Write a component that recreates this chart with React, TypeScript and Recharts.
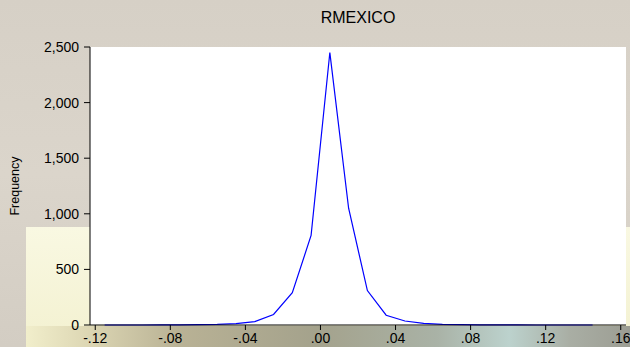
import React from 'react';
import { LineChart, Line, XAxis, YAxis, CartesianGrid } from 'recharts';

// Histogram bin midpoints of RMEXICO returns and their counts
const binMids = [
  -0.115, -0.105, -0.095, -0.085, -0.075, -0.065, -0.055, -0.045, -0.035,
  -0.025, -0.015, -0.005, 0.005, 0.015, 0.025, 0.035, 0.045, 0.055, 0.065,
  0.075, 0.085, 0.095, 0.105, 0.115, 0.125, 0.135, 0.145,
];
const frequency = [
  0, 0, 0, 1, 1, 3, 6, 13, 30,
  95, 290, 805, 2450, 1050, 310, 88, 36, 14, 6,
  3, 2, 1, 1, 0, 0, 0, 0,
];
const xTicks = [-0.12, -0.08, -0.04, 0, 0.04, 0.08, 0.12, 0.16];
const yTicks = [0, 500, 1000, 1500, 2000, 2500];

const data = binMids.map((x, i) => ({ x, freq: frequency[i] }));

const font = '"Liberation Sans", Arial, sans-serif';
const tickStyle = { fontFamily: font, fontSize: 14, fill: '#000' };

const fmtX = (v: number) => {
  const s = Math.abs(v).toFixed(2).replace(/^0/, '');
  return v < -1e-9 ? '-' + s : s;
};
const fmtY = (v: number) => v.toLocaleString('en-US');

const FreqLabel = () => (
  <text
    x={15}
    y={186}
    transform="rotate(-90 15 186)"
    textAnchor="middle"
    dominantBaseline="central"
    style={{ fontFamily: font, fontSize: 12.5, fill: '#000' }}
  >
    Frequency
  </text>
);

export default function App() {
  return (
    <div
      style={{
        position: 'absolute',
        left: 0,
        top: 0,
        width: 630,
        height: 347,
        overflow: 'hidden',
        background: 'linear-gradient(180deg, #d6d0c6 0%, #dbd5cb 50%, #d3cdc3 100%)',
      }}
    >
      {/* pale yellow panel behind the lower-left corner */}
      <div
        style={{
          position: 'absolute',
          left: 26,
          top: 227,
          width: 604,
          height: 120,
          background: 'linear-gradient(180deg, #f9f8e2 0%, #f3f1d0 100%)',
        }}
      />
      <div
        style={{
          position: 'absolute',
          left: 26,
          top: 326,
          width: 604,
          height: 21,
          background:
            'linear-gradient(90deg, #f1eecb 0%, #ddd7b4 10%, #b9b295 25%, #a4a28c 48%, #a9b2a6 68%, #bcd2cd 80%, #a9aea4 90%, #9c9d93 100%)',
        }}
      />
      <div
        style={{
          position: 'absolute',
          left: 90,
          width: 536,
          top: 8,
          textAlign: 'center',
          fontFamily: font,
          fontSize: 16,
          lineHeight: '20px',
          color: '#000',
        }}
      >
        RMEXICO
      </div>
      <LineChart
        width={630}
        height={347}
        data={data}
        margin={{ top: 47, right: 4, bottom: 0, left: 0 }}
        style={{ position: 'absolute', left: 0, top: 0 }}
      >
        <CartesianGrid fill="#ffffff" horizontal={false} vertical={false} />
        <XAxis
          dataKey="x"
          type="number"
          domain={[-0.1228, 0.1628]}
          allowDataOverflow
          ticks={xTicks}
          tickFormatter={fmtX}
          height={22}
          tickSize={5}
          tickMargin={3}
          tick={tickStyle}
          stroke="#000"
          interval={0}
        />
        <XAxis
          xAxisId="top"
          orientation="top"
          dataKey="x"
          type="number"
          domain={[-0.1228, 0.1628]}
          allowDataOverflow
          height={0}
          tick={false}
          tickLine={false}
          stroke="#000"
        />
        <YAxis
          type="number"
          domain={[0, 2500]}
          ticks={yTicks}
          tickFormatter={fmtY}
          width={90}
          tickSize={6}
          tickMargin={5}
          tick={tickStyle}
          stroke="#000"
          interval={0}
          label={<FreqLabel />}
        />
        <YAxis
          yAxisId="right"
          orientation="right"
          domain={[0, 2500]}
          width={0}
          tick={false}
          tickLine={false}
          stroke="#000"
        />
        <Line
          type="linear"
          dataKey="freq"
          stroke="#0000ff"
          strokeWidth={1.2}
          dot={false}
          activeDot={false}
          isAnimationActive={false}
        />
      </LineChart>
    </div>
  );
}
